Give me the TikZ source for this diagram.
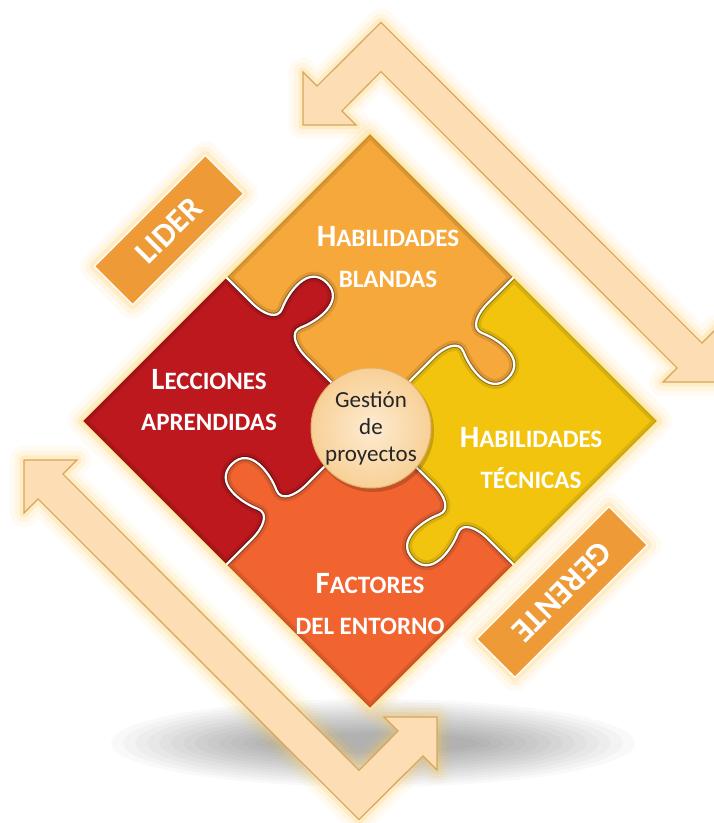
\documentclass[tikz,border=0pt]{standalone}
\usepackage{fontspec}
\setmainfont{Carlito}

\definecolor{pcOrange}{RGB}{247,168,58}
\definecolor{pcRed}{RGB}{188,24,30}
\definecolor{pcYellow}{RGB}{243,196,14}
\definecolor{pcCoral}{RGB}{241,100,48}
\definecolor{arrowFill}{RGB}{252,221,180}
\definecolor{arrowEdge}{RGB}{214,166,90}
\definecolor{glowC}{RGB}{255,204,90}
\definecolor{boxFill}{RGB}{238,155,55}
\definecolor{hubFill}{RGB}{248,208,150}
\definecolor{hubLight}{RGB}{253,236,210}
\definecolor{hubEdge}{RGB}{226,176,105}
\definecolor{rimC}{RGB}{255,232,150}

\newcommand\initcap[1]{{\fontsize{31}{41}\selectfont #1}}

% piece in the upper-left quadrant of the unit square, the others are rotations of it
\def\redpiece{(0,0) -- (0,0.44) .. controls (0,0.52) and (0.03,0.59) .. (0.085,0.565)
  .. controls (0.16,0.53) and (0.33,0.50) .. (0.33,0.63)
  .. controls (0.33,0.76) and (0.16,0.73) .. (0.085,0.695)
  .. controls (0.03,0.67) and (0,0.74) .. (0,0.82) -- (0,1) -- (-1,1) -- (-1,0)
  -- (-0.82,0) .. controls (-0.74,0) and (-0.67,0.03) .. (-0.695,0.085)
  .. controls (-0.73,0.16) and (-0.76,0.33) .. (-0.63,0.33)
  .. controls (-0.50,0.33) and (-0.53,0.16) .. (-0.565,0.085)
  .. controls (-0.59,0.03) and (-0.52,0) .. (-0.44,0) -- cycle}
\def\seampath{(0,0) -- (0,0.44) .. controls (0,0.52) and (0.03,0.59) .. (0.085,0.565)
  .. controls (0.16,0.53) and (0.33,0.50) .. (0.33,0.63)
  .. controls (0.33,0.76) and (0.16,0.73) .. (0.085,0.695)
  .. controls (0.03,0.67) and (0,0.74) .. (0,0.82) -- (0,1)}
% bent double arrow
\def\arrowshape{(303,698) -- (303,751) -- (317.1,736.9) -- (381,800.7) -- (701.9,479.9)
  -- (716,494) -- (716,441) -- (663,441) -- (677.1,455.1) -- (381,751.3)
  -- (341.9,712.1) -- (356,698) -- cycle}

\tikzset{
  halo/.style={
    preaction={draw=glowC, line width=28pt, opacity=.07, line join=round},
    preaction={draw=glowC, line width=18pt, opacity=.12, line join=round},
    preaction={draw=glowC, line width=9pt, opacity=.2, line join=round}},
  arrowbody/.style={fill=arrowFill, draw=arrowEdge, line width=1.1pt},
  tagbox/.style={draw=white, line width=1.2pt, fill=boxFill, minimum height=54pt, inner sep=0pt,
    text=white, font=\bfseries\fontsize{33}{36}\selectfont},
  piecetext/.style={text=white, align=center, font=\bfseries\fontsize{25}{41}\selectfont, inner sep=0pt},
  hub/.style={circle, minimum size=120pt, inner sep=0pt, draw=hubEdge, line width=1pt,
    inner color=hubLight, outer color=hubFill, align=center,
    font=\fontsize{23}{27}\selectfont, text=black!85}
}

\begin{document}
\begin{tikzpicture}[x=1pt,y=1pt]
\fill[white] (0,0) rectangle (714,823);
\useasboundingbox (0,0) rectangle (714,823);
\clip (0,0) rectangle (714,823);

% soft floor shadow
\foreach \k in {0,...,13} {
  \fill[black, opacity=.022] (373,80) ellipse [x radius={262-12*\k}, y radius={44-2.6*\k}];
}

% cycle arrows
\fill[arrowbody, halo] \arrowshape;
\begin{scope}[rotate around={180:(370,402)}]
  \fill[arrowbody, halo] \arrowshape;
\end{scope}

% puzzle square
\begin{scope}[shift={(370,402)}, rotate=45, scale=203.6]
  \path[halo] (-1,-1) -- (1,-1) -- (1,1) -- (-1,1) -- cycle;
  \foreach \r/\c in {0/pcRed, -90/pcOrange, 90/pcCoral, 180/pcYellow} {
    \begin{scope}[rotate=\r]
      \fill[\c] \redpiece;
      \begin{scope}
        \clip \redpiece;
        \draw[black, opacity=.10, line width=10pt] \redpiece;
        \draw[black, opacity=.10, line width=4pt] \redpiece;
      \end{scope}
    \end{scope}
  }
  \foreach \r in {0,-90,90,180} {
    \draw[rotate=\r, black, opacity=.25, line width=4.5pt] \seampath;
    \draw[rotate=\r, white, line width=2.2pt] \seampath;
  }
  \draw[rimC, line width=1.5pt] (-1,-1) -- (1,-1) -- (1,1) -- (-1,1) -- cycle;
\end{scope}

% side tags
\node[tagbox, halo, rotate=45, minimum width=157pt] (lider) at (169,593) {LIDER};
\node[tagbox, halo, rotate=225, minimum width=187pt] (gerente) at (562,231) {GERENTE};

% piece labels
\node[piecetext] (blandas) at (388,566) {\initcap{H}ABILIDADES\\BLANDAS};
\node[piecetext] (lecciones) at (209,423) {\initcap{L}ECCIONES\\APRENDIDAS};
\node[piecetext] (tecnicas) at (531,365) {\initcap{H}ABILIDADES\\TÉCNICAS};
\node[piecetext] (factores) at (370,219) {\initcap{F}ACTORES\\DEL ENTORNO};

% centre hub
\fill[black, opacity=.18] (373,392) circle (61);
\node[hub] (hub) at (371,395) {Gestión\\de\\proyectos};
\end{tikzpicture}
\end{document}
